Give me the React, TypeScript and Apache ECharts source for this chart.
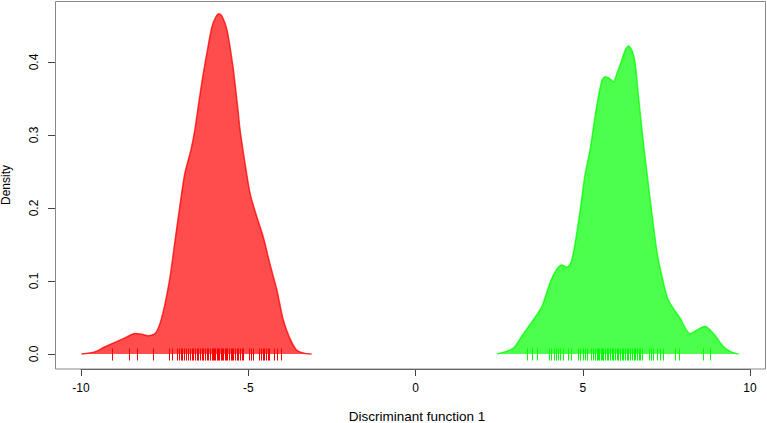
import React, { useEffect, useRef } from "react";
import * as echarts from "echarts";

// Density curve of group 1 (red): [discriminant score, density]
const redX = [-10.0, -9.6, -9.3, -9.0, -8.7, -8.4, -8.19, -8.01, -7.8, -7.65, -7.5, -7.35, -7.2, -7.06, -6.91, -6.73, -6.61, -6.49, -6.37, -6.22, -6.1, -5.98, -5.89, -5.8, -5.65, -5.47, -5.32, -5.26, -5.11, -4.96, -4.76, -4.57, -4.37, -4.16, -3.97, -3.77, -3.57, -3.35, -3.12];
const redY = [0, 0.003, 0.01, 0.016, 0.022, 0.028, 0.027, 0.025, 0.028, 0.042, 0.069, 0.106, 0.156, 0.202, 0.2475, 0.279, 0.307, 0.345, 0.381, 0.42, 0.448, 0.462, 0.466, 0.463, 0.444, 0.393, 0.334, 0.307, 0.261, 0.22, 0.188, 0.161, 0.124, 0.088, 0.047, 0.0215, 0.0055, 0.001, 0];

// Density curve of group 2 (green)
const greenX = [2.42, 2.91, 3.21, 3.51, 3.76, 4.01, 4.19, 4.36, 4.51, 4.63, 4.75, 4.9, 5.05, 5.2, 5.35, 5.45, 5.56, 5.65, 5.77, 5.9, 6.01, 6.13, 6.25, 6.35, 6.46, 6.55, 6.65, 6.82, 7.03, 7.2, 7.38, 7.54, 7.89, 8.19, 8.4, 8.64, 8.89, 9.19, 9.42, 9.64];
const greenY = [0, 0.008, 0.028, 0.047, 0.065, 0.098, 0.115, 0.122, 0.119, 0.125, 0.15, 0.195, 0.245, 0.279, 0.325, 0.352, 0.375, 0.38, 0.378, 0.373, 0.385, 0.4, 0.416, 0.422, 0.415, 0.398, 0.352, 0.279, 0.2, 0.14, 0.1, 0.074, 0.049, 0.028, 0.033, 0.038, 0.028, 0.01, 0.003, 0];

// Rug (individual observations)
const redRug = [-9.1, -8.57, -8.33, -7.85, -7.37, -7.29, -7.14, -7.08, -7.03, -6.99, -6.94, -6.88, -6.82, -6.76, -6.7, -6.66, -6.61, -6.56, -6.51, -6.46, -6.41, -6.36, -6.31, -6.26, -6.21, -6.16, -6.1, -6.06, -6.03, -6.0, -5.96, -5.92, -5.88, -5.84, -5.8, -5.76, -5.72, -5.68, -5.64, -5.6, -5.54, -5.5, -5.46, -5.41, -5.36, -5.31, -5.26, -5.21, -5.17, -4.98, -4.94, -4.86, -4.69, -4.64, -4.56, -4.53, -4.48, -4.42, -4.39, -4.24, -4.15, -4.03];
const greenRug = [3.31, 3.46, 3.63, 3.96, 4.04, 4.11, 4.19, 4.24, 4.3, 4.39, 4.55, 4.62, 4.83, 4.9, 5.0, 5.05, 5.12, 5.23, 5.3, 5.35, 5.42, 5.45, 5.48, 5.52, 5.55, 5.6, 5.65, 5.7, 5.75, 5.8, 5.85, 5.9, 5.95, 6.0, 6.05, 6.1, 6.15, 6.2, 6.25, 6.3, 6.35, 6.4, 6.45, 6.5, 6.55, 6.6, 6.65, 6.7, 6.75, 6.95, 7.02, 7.09, 7.2, 7.29, 7.39, 7.74, 7.87, 8.57, 8.79];

const xTicks = [-10, -5, 0, 5, 10];
const yTicks = [0, 0.1, 0.2, 0.3, 0.4];
const xLabel = "Discriminant function 1";
const yLabel = "Density";

const FONT = "Liberation Sans, Arial, Helvetica, sans-serif";

function rugSeries(values: number[], color: string) {
  return {
    type: "custom",
    xAxisIndex: 0,
    yAxisIndex: 0,
    data: values.map((x) => [x, 0]),
    z: 3,
    silent: true,
    renderItem: (_params: any, api: any) => {
      const p = api.coord([api.value(0), api.value(1)]);
      const x = Math.round(p[0]) + 0.5;
      return {
        type: "line",
        shape: { x1: x, y1: p[1] - 5.5, x2: x, y2: p[1] + 6.5 },
        style: { stroke: color, lineWidth: 1 },
      };
    },
  };
}

export default function App() {
  const ref = useRef<HTMLDivElement>(null);
  useEffect(() => {
    if (!ref.current) return;
    const chart = echarts.init(ref.current, undefined, { renderer: "svg" });
    const zip = (xs: number[], ys: number[]) => xs.map((x, i) => [x, ys[i]]);
    chart.setOption({
      animation: false,
      backgroundColor: "#fff",
      textStyle: { fontFamily: FONT },
      grid: [
        { left: 55, right: 2, top: 1, bottom: 54 },
        { left: 81, right: 17, top: 62, bottom: 69 },
      ],
      xAxis: [
        { type: "value", gridIndex: 0, min: -10.79, max: 10.43, show: false },
        {
          type: "value",
          gridIndex: 1,
          min: xTicks[0],
          max: xTicks[xTicks.length - 1],
          interval: 5,
          position: "bottom",
          offset: 15,
          axisLine: { show: true, onZero: false, lineStyle: { color: "#444", width: 1 } },
          axisTick: { show: true, length: 7, lineStyle: { color: "#444" } },
          splitLine: { show: false },
          axisLabel: { color: "#000", fontSize: 12, fontFamily: FONT, margin: 13 },
        },
      ],
      yAxis: [
        { type: "value", gridIndex: 0, min: -0.0205, max: 0.4836, show: false },
        {
          type: "value",
          gridIndex: 1,
          min: yTicks[0],
          max: yTicks[yTicks.length - 1],
          interval: 0.1,
          position: "left",
          offset: 26,
          axisLine: { show: true, onZero: false, lineStyle: { color: "#444", width: 1 } },
          axisTick: { show: true, length: 7, lineStyle: { color: "#444" } },
          splitLine: { show: false },
          axisLabel: {
            color: "#000",
            fontSize: 12,
            fontFamily: FONT,
            rotate: 90,
            margin: 15,
            formatter: (v: number) => v.toFixed(1),
          },
        },
      ],
      graphic: [
        {
          type: "rect",
          shape: { x: 55.5, y: 1.5, width: 710, height: 367.5 },
          style: { fill: "none", stroke: "#888", lineWidth: 1 },
          z: 10,
        },
        {
          type: "text",
          x: 417,
          y: 416,
          style: { text: xLabel, font: `13.5px ${FONT}`, fill: "#000", textAlign: "center", textVerticalAlign: "middle" },
        },
        {
          type: "text",
          x: 6,
          y: 185,
          rotation: Math.PI / 2,
          style: { text: yLabel, font: `12px ${FONT}`, fill: "#000", textAlign: "center", textVerticalAlign: "middle" },
        },
      ],
      series: [
        {
          type: "line",
          xAxisIndex: 0,
          yAxisIndex: 0,
          data: zip(redX, redY),
          smooth: 0.25,
          symbol: "none",
          lineStyle: { color: "rgba(255,0,0,0.75)", width: 1.5 },
          areaStyle: { color: "rgba(255,0,0,0.7)", opacity: 1, origin: 0 },
          z: 2,
        },
        {
          type: "line",
          xAxisIndex: 0,
          yAxisIndex: 0,
          data: zip(greenX, greenY),
          smooth: 0.25,
          symbol: "none",
          lineStyle: { color: "rgba(0,255,0,0.75)", width: 1.5 },
          areaStyle: { color: "rgba(0,255,0,0.7)", opacity: 1, origin: 0 },
          z: 2,
        },
        rugSeries(redRug, "#ff0000"),
        rugSeries(greenRug, "#00ff00"),
      ],
    });
    return () => chart.dispose();
  }, []);
  return (
    <div
      ref={ref}
      style={{ position: "fixed", left: 0, top: 0, width: 767, height: 423 }}
    />
  );
}
